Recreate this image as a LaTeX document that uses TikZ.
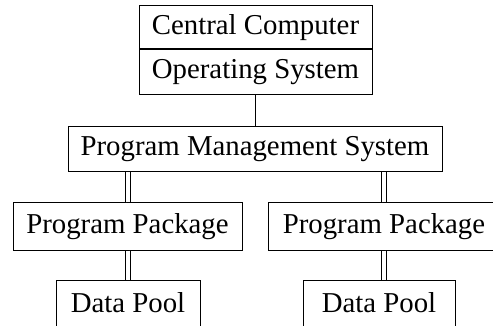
\documentclass[tikz,border=0pt]{standalone}
\usepackage{fontspec}
\setmainfont{Liberation Serif}
\usetikzlibrary{positioning}
\tikzset{
    unit/.style={rectangle,draw,line width=0.5pt,inner sep=0pt,font=\fontsize{14.4}{17}\selectfont},
    link/.style={line width=0.5pt},
    dlink/.style={double,double distance=2pt,line width=0.5pt}
}
\begin{document}
\begin{tikzpicture}[x=0.5pt,y=-0.5pt]
\useasboundingbox (0,0) rectangle (493,326);
\clip (0,0) rectangle (493,326);
% computer and its system
\node [unit,minimum width=116.5pt,minimum height=21.5pt] (CC) at (255.5,27.5) {Central Computer};
\node [unit,minimum width=116.5pt,minimum height=22.5pt,below=0pt of CC] (OS) {Operating System};
\node [unit,minimum width=187pt,minimum height=22.5pt] (PMS) at (255,149.5) {Program Management System};
% packages and pools
\node [unit,minimum width=114.5pt,minimum height=23.5pt] (PPL) at (127.5,226.5) {Program Package};
\node [unit,minimum width=116pt,minimum height=23.5pt] (PPR) at (384,226.5) {Program Package};
\node [unit,minimum width=72pt,minimum height=30pt,text depth=7pt] (DPL) at (128,310) {Data Pool};
\node [unit,minimum width=76pt,minimum height=30pt,text depth=7pt] (DPR) at (379,310) {Data Pool};
\draw [link] (OS.south) -- (OS.south |- PMS.north);
\foreach \pp in {PPL, PPR}
\draw [dlink] (\pp.north) -- (\pp.north |- PMS.south);
\draw [dlink] (PPL.south) -- (PPL.south |- DPL.north);
\draw [dlink] (PPR.south) -- (PPR.south |- DPR.north);
\end{tikzpicture}
\end{document}
